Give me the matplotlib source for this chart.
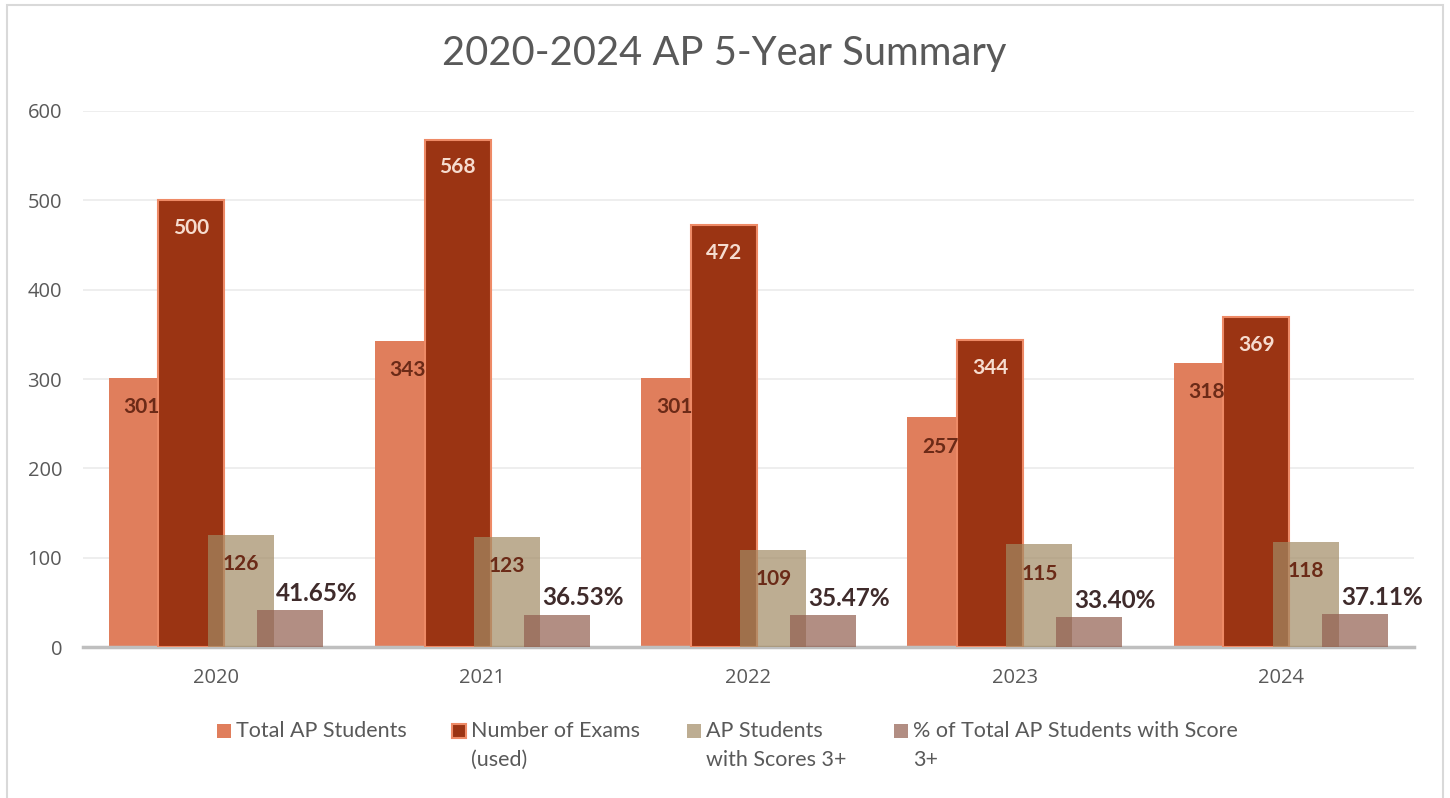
import numpy as np
import matplotlib.pyplot as plt
from matplotlib.patches import Rectangle

plt.rcParams['font.family'] = ['Lato', 'DejaVu Sans']

years = ['2020', '2021', '2022', '2023', '2024']
total_students = [301, 343, 301, 257, 318]
num_exams = [500, 568, 472, 344, 369]
students_3plus = [126, 123, 109, 115, 118]
pct_3plus = [41.65, 36.53, 35.47, 33.40, 37.11]

labels = ['Total AP Students', 'Number of Exams\n(used)',
          'AP Students\nwith Scores 3+', '% of Total AP Students with Score\n3+']

W, H = 1450, 798
fig = plt.figure(figsize=(W / 100, H / 100), dpi=100)
ax = fig.add_axes([0.0572, 0.189, 0.918, 0.672])

x = np.arange(len(years))
w = 0.248
step = 0.186
offs = [-1.5 * step, -0.5 * step, 0.5 * step, 1.5 * step]

styles = [
    dict(color='#E07E5C', zorder=2),
    dict(color='#9B3413', edgecolor='#EE8A66', linewidth=1.5, zorder=3),
    dict(color='#A28B64', alpha=0.7, zorder=4),
    dict(color='#925E4F', alpha=0.7, zorder=5),
]
series = [total_students, num_exams, students_3plus, pct_3plus]
for k in range(4):
    ax.bar(x + offs[k], series[k], w, **styles[k])

# data labels
for i in range(len(years)):
    ax.annotate(str(total_students[i]), (x[i] + offs[0], total_students[i]),
                xytext=(0, -21), textcoords='offset points', ha='center', va='center',
                fontsize=15, fontweight='bold', color='#6B2A17', zorder=6)
    ax.annotate(str(num_exams[i]), (x[i] + offs[1], num_exams[i]),
                xytext=(0, -20), textcoords='offset points', ha='center', va='center',
                fontsize=15, fontweight='bold', color='#F6DCCF', zorder=6)
    ax.annotate(str(students_3plus[i]), (x[i] + offs[2], students_3plus[i]),
                xytext=(0, -21), textcoords='offset points', ha='center', va='center',
                fontsize=15, fontweight='bold', color='#6B2A17', zorder=6)
    ax.annotate(f'{pct_3plus[i]:.2f}%', (x[i] + offs[3], pct_3plus[i]),
                xytext=(19, 12), textcoords='offset points', ha='center', va='center',
                fontsize=17.5, fontweight='bold', color='#3F2B2B', zorder=6)

ax.set_xlim(-0.5, 4.5)
ax.set_ylim(0, 600)
ax.set_yticks(range(0, 601, 100))
ax.set_xticks(x)
ax.set_xticklabels(years)
ax.tick_params(length=0, labelcolor='#595959')
for t in ax.get_xticklabels() + ax.get_yticklabels():
    t.set_fontfamily('Open Sans')
    t.set_fontsize(14.5)
ax.tick_params(axis='x', pad=15)
ax.tick_params(axis='y', pad=15)
ax.yaxis.grid(True, color='#EBEBEB', linewidth=1.2, zorder=0)
ax.set_axisbelow(True)
for s in ['top', 'right', 'left']:
    ax.spines[s].set_visible(False)
ax.spines['bottom'].set_color('#BFBFBF')
ax.spines['bottom'].set_linewidth(2.5)

fig.text(0.4997, 1 - 53 / H, '2020-2024 AP 5-Year Summary', ha='center', va='center',
         fontsize=28.7, color='#595959')

# legend, drawn by hand so the marker sits on the first text line
leg_x = [217, 452, 687, 894]
line_y = [731, 760]
for k in range(4):
    st = styles[k]
    fig.patches.append(Rectangle((leg_x[k] / W, 1 - 738 / H), 14 / W, 14 / H,
                                 transform=fig.transFigure, facecolor=st['color'],
                                 edgecolor=st.get('edgecolor', 'none'),
                                 linewidth=st.get('linewidth', 0),
                                 alpha=st.get('alpha', 1.0)))
    for j, line in enumerate(labels[k].split('\n')):
        fig.text((leg_x[k] + 19) / W, 1 - line_y[j] / H, line, ha='left', va='center',
                 fontsize=15.5, color='#595959')

fig.patches.append(Rectangle((7 / W, -0.01), 1436 / W, 1 - 5 / H + 0.01,
                             transform=fig.transFigure, fill=False,
                             edgecolor='#D9D9D9', linewidth=1.5))

fig.savefig('out.png', dpi=100)
